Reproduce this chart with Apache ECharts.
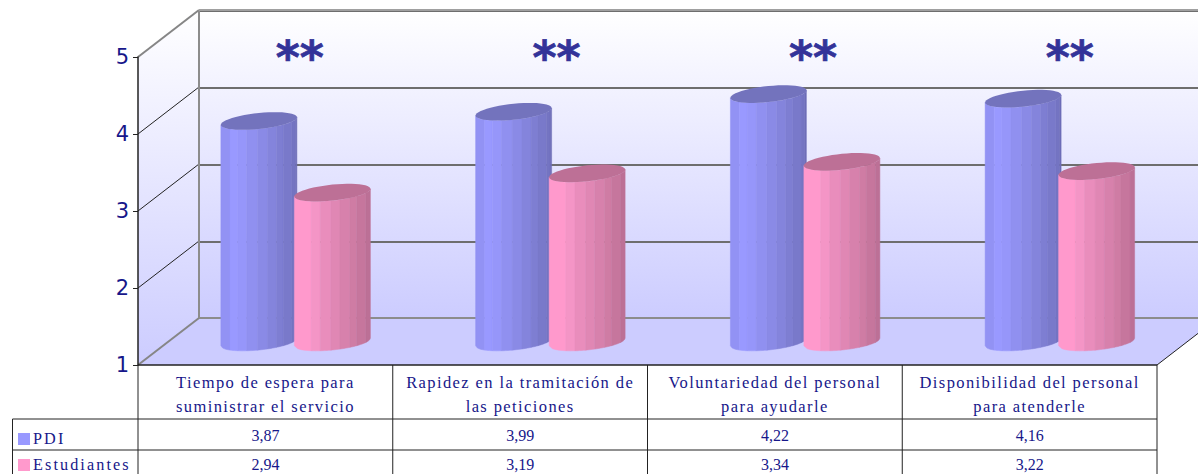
<!DOCTYPE html>
<html><head><meta charset="utf-8">
<style>
html,body{margin:0;padding:0;background:#fff}
#c{width:1198px;height:474px}
text[style*="16.5px"]{letter-spacing:1.4px}
text[style*="16.2px"]{letter-spacing:2.1px}
</style>
<script src="https://cdn.jsdelivr.net/npm/echarts@6/dist/echarts.min.js"></script>
</head><body><div id="c"></div>
<script>
const categories = ['Tiempo de espera para\nsuministrar el servicio','Rapidez en la tramitación de\nlas peticiones','Voluntariedad del personal\npara ayudarle','Disponibilidad del personal\npara atenderle'];
const pdi = [3.87,3.99,4.22,4.16];
const estudiantes = [2.94,3.19,3.34,3.22];
const stars = ['**','**','**','**'];
const yTicks = [1,2,3,4,5];
const starLevel = [4.68,4.68,4.68,4.68];

const ink = '#17178a';
const fmt = v => v.toFixed(2).replace('.',',');
const blueSlats = ['#9292f4','#9999ff','#9696fa','#9090f0','#8a8ae6','#8484dc','#7e7ed2','#7979ca','#7474c2','#6e6eb8'];
const blueStops = [0,.12,.22,.34,.48,.61,.73,.82,.93,.98,1];
const pinkSlats = ['#ff99cc','#f495c6','#e98dbc','#e087b4','#d781ac','#cf7ca4','#c6769d','#bc7096'];
const pinkStops = [0,.22,.34,.48,.6,.73,.82,.94,1];
const wallFill = {type:'linear',x:0,y:0,x2:0,y2:1,colorStops:[{offset:0,color:'#ffffff'},{offset:1,color:'#ccccff'}]};

function cylinder(slats, stops, capColor, shift){
  return function(params, api){
    const c = api.coord([api.value(0), api.value(1)]);
    const base = api.coord([api.value(0), 1]);
    const cx = c[0] + shift, rx = 38, ry = 8, tilt = 0.1;
    const frontY = (x, cy) => {
      const d = Math.max(-1, Math.min(1, (x-cx)/rx));
      return cy - tilt*(x-cx) + ry*Math.sqrt(1-d*d);
    };
    const children = [];
    slats.forEach((col,i)=>{
      const a = cx-rx+2*rx*stops[i], b = cx-rx+2*rx*stops[i+1];
      const pts = [];
      const steps = 5;
      for(let s=0;s<=steps;s++){const x=a+(b-a)*s/steps; pts.push([x,frontY(x,c[1])]);}
      for(let s=steps;s>=0;s--){const x=a+(b-a)*s/steps; pts.push([x,frontY(x,base[1])]);}
      children.push({type:'polygon',shape:{points:pts},style:{fill:col,stroke:col,lineWidth:0.5}});
    });
    const cap = [];
    for(let k=0;k<48;k++){
      const t = k/48*Math.PI*2, x = cx+rx*Math.cos(t);
      cap.push([x, c[1]-tilt*(x-cx)+ry*Math.sin(t)]);
    }
    children.push({type:'polygon',shape:{points:cap},style:{fill:capColor}});
    return {type:'group',children};
  };
}

function frame(params, api){
  const g = params.coordSys, L=g.x, T=g.y, R=g.x+g.width, B=g.y+g.height, dx=61, dy=-47;
  const W = api.getWidth(), H = api.getHeight();
  const kids = [];
  kids.push({type:'polygon',shape:{points:[[L,T],[L+dx,T+dy],[L+dx,B+dy],[L,B]]},style:{fill:wallFill}});
  kids.push({type:'polygon',shape:{points:[[L,B],[L+dx,B+dy],[R+dx,B+dy],[R,B]]},style:{fill:'#ccccff'}});
  const line=(x1,y1,x2,y2,c,w)=>kids.push({type:'line',shape:{x1,y1,x2,y2},style:{stroke:c,lineWidth:w}});
  yTicks.forEach(v=>{
    const y = api.coord([0,v])[1];
    const edge = (v===yTicks[0]||v===yTicks[yTicks.length-1]);
    line(L,y,L+dx,y+dy,edge?'#868686':'#222222',edge?2:1);
  });
  line(R,B,R+dx,B+dy,'#222222',1);
  line(L+dx,T+dy,L+dx,B+dy,'#8c8c8c',2);
  line(L+dx,T+dy,W,T+dy,'#a0a0a0',2);
  line(L+dx,B+dy,W,B+dy,'#8c8c8c',2);
  // data table rules
  const cw = g.width/categories.length;
  line(L,B,R,B,'#222222',1.5);
  for(let i=0;i<=categories.length;i++) line(L+i*cw,B,L+i*cw,H,'#222222',1);
  line(12.5,B+54,R,B+54,'#222222',1);
  line(12.5,B+85,R,B+85,'#222222',1);
  line(12.5,B+54,12.5,H,'#222222',1);
  return {type:'group',children:kids};
}

const hiddenX = (grid,data)=>({type:'category',gridIndex:grid,data,show:false});
const hiddenY = grid=>({type:'value',gridIndex:grid,min:1,max:5,interval:1,show:false});
const tableAxis = (data,offset)=>({type:'category',gridIndex:0,data,position:'bottom',offset,z:6,
  axisLine:{show:false},axisTick:{show:false},
  axisLabel:{interval:0,margin:4,color:ink,fontFamily:'Liberation Serif',fontSize:16}});
const rowLegend = (name,top)=>({show:true,selectedMode:false,left:13,top,itemWidth:12,itemHeight:12,icon:'rect',
  data:[name],textStyle:{color:ink,fontFamily:'Liberation Serif',fontSize:16.2,padding:[0,0,3,-2]}});

const chart = echarts.init(document.getElementById('c'),null,{renderer:'svg',width:1198,height:474});
chart.setOption({
  animation:false,
  backgroundColor:'#fff',
  tooltip:{show:false},
  legend:[rowLegend('PDI',426),rowLegend('Estudiantes',452)],
  grid:[
    {left:138,width:1019,top:57,height:308},
    {left:168.5,width:1019,top:34,height:308},
    {left:199,right:0,top:11,height:307,show:true,borderWidth:0,backgroundColor:wallFill},
    {left:171.5,width:1028,top:33,height:308}
  ],
  xAxis:[
    {type:'category',gridIndex:0,data:categories,position:'bottom',z:6,axisLine:{show:false},axisTick:{show:false},
      axisLabel:{interval:0,margin:5,lineHeight:24,color:ink,fontFamily:'Liberation Serif',fontSize:16.5}},
    tableAxis(pdi.map(fmt),58),
    tableAxis(estudiantes.map(fmt),87),
    hiddenX(1,categories),
    hiddenX(2,categories),
    hiddenX(3,stars.map((s,i)=>categories[i]))
  ],
  yAxis:[
    {type:'value',gridIndex:0,min:1,max:5,interval:1,z:6,
      axisLine:{show:true,lineStyle:{color:'#222222',width:1.5}},
      axisTick:{show:true,length:5,lineStyle:{color:'#222222'}},
      splitLine:{show:false},
      axisLabel:{margin:9,color:ink,fontFamily:'DejaVu Sans',fontSize:21}},
    hiddenY(1),
    {type:'value',gridIndex:2,min:1,max:5,interval:1,
      axisLine:{show:false},axisTick:{show:false},axisLabel:{show:false},
      splitLine:{show:true,lineStyle:{color:'#6e6e6e',width:2}}},
    hiddenY(3)
  ],
  series:[
    {type:'custom',name:'frame',xAxisIndex:0,yAxisIndex:0,z:1,silent:true,data:[[0,1]],renderItem:frame},
    {type:'custom',name:'PDI',xAxisIndex:3,yAxisIndex:1,z:4,silent:true,itemStyle:{color:'#9999ff'},
      encode:{x:0,y:1},data:pdi.map((v,i)=>[i,v]),renderItem:cylinder(blueSlats,blueStops,'#7373bd',-37)},
    {type:'custom',name:'Estudiantes',xAxisIndex:3,yAxisIndex:1,z:5,silent:true,itemStyle:{color:'#ff99cc'},
      encode:{x:0,y:1},data:estudiantes.map((v,i)=>[i,v]),renderItem:cylinder(pinkSlats,pinkStops,'#bd7096',36.5)},
    {type:'scatter',name:'sig',xAxisIndex:5,yAxisIndex:3,z:3,silent:true,symbolSize:0,itemStyle:{opacity:1},
      data:starLevel.map((v,i)=>[i,v]),
      label:{show:true,position:'inside',formatter:p=>stars[p.dataIndex],color:'#333399',opacity:1,
        textBorderColor:'#333399',textBorderWidth:0.7,
        fontFamily:'DejaVu Sans',fontWeight:'bold',fontSize:46}}
  ]
});
</script></body></html>
